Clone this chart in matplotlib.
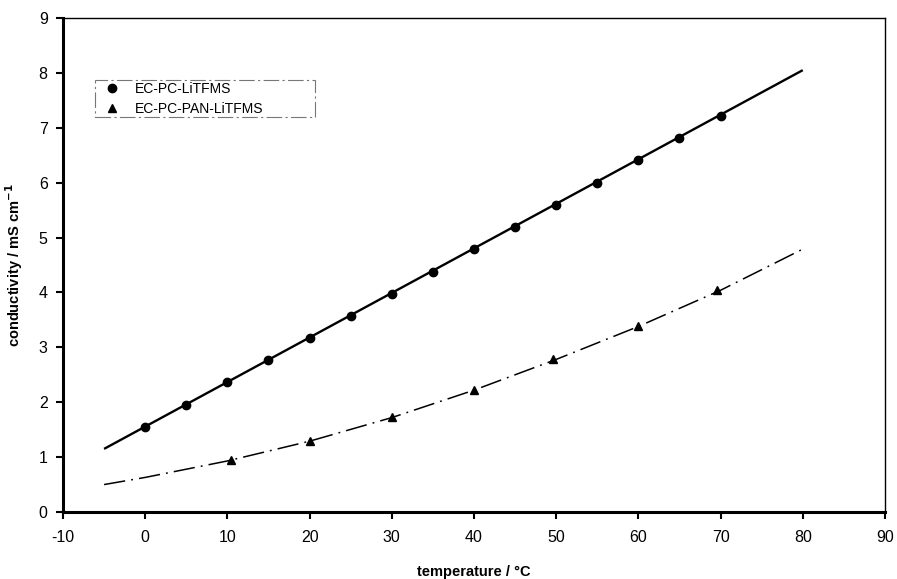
import matplotlib
matplotlib.use("Agg")
import matplotlib.pyplot as plt
from matplotlib.patches import Rectangle

# Data
liq_x = [0, 5, 10, 15, 20, 25, 30, 35, 40, 45, 50, 55, 60, 65, 70]
liq_y = [1.55, 1.95, 2.36, 2.77, 3.17, 3.58, 3.98, 4.38, 4.79, 5.19, 5.60, 6.00, 6.41, 6.82, 7.22]
liq_fit_x = [-5, 80]
liq_fit_y = [1.15, 8.05]

pan_x = [10.5, 20, 30, 40, 49.6, 60, 69.6]
pan_y = [0.94, 1.30, 1.73, 2.22, 2.79, 3.38, 4.04]
pan_fit_x = [-5, 0, 10, 20, 30, 40, 50, 60, 70, 80]
pan_fit_y = [0.50, 0.63, 0.93, 1.29, 1.72, 2.22, 2.78, 3.38, 4.04, 4.79]

labels = ["EC-PC-LiTFMS", "EC-PC-PAN-LiTFMS"]
xticks = [-10, 0, 10, 20, 30, 40, 50, 60, 70, 80, 90]
yticks = [0, 1, 2, 3, 4, 5, 6, 7, 8, 9]

plt.rcParams['font.family'] = ['Liberation Sans', 'DejaVu Sans']
plt.rcParams['axes.unicode_minus'] = False

fig = plt.figure(figsize=(8.97, 5.79), dpi=100)
ax = fig.add_axes([0.0702, 0.1157, 0.9164, 0.8532])

ax.plot(liq_fit_x, liq_fit_y, color='black', lw=1.7, solid_capstyle='butt')
ax.plot(pan_fit_x, pan_fit_y, color='black', lw=1.1,
        linestyle=(0, (14, 4, 1.2, 4)))
ax.plot(liq_x, liq_y, 'o', color='black', ms=6, linestyle='none', label=labels[0])
ax.plot(pan_x, pan_y, '^', color='black', ms=6, linestyle='none', label=labels[1])

ax.set_xlim(-10, 90)
ax.set_ylim(0, 9)
ax.set_xticks(xticks)
ax.set_yticks(yticks)
ax.tick_params(direction='out', length=5, width=1.5, labelsize=11.5, color='black')
ax.tick_params(axis='x', pad=8)
ax.tick_params(axis='y', pad=6)

for side in ['left', 'bottom']:
    ax.spines[side].set_linewidth(2.2)
for side in ['top', 'right']:
    ax.spines[side].set_linewidth(1.0)

ax.set_xlabel('temperature / °C', fontsize=10.5, fontweight='bold', labelpad=14)
ax.set_ylabel('conductivity / mS cm$^{\\mathbf{-1}}$', fontsize=10.5, fontweight='bold')
ax.yaxis.set_label_coords(-0.046, 0.5)

leg = ax.legend(loc='upper left', bbox_to_anchor=(0.050, 0.870), fontsize=10,
                frameon=False, handletextpad=1.0, handlelength=1.2,
                borderpad=0.0, labelspacing=0.4, borderaxespad=0)

ax.add_patch(Rectangle((0.039, 0.800), 0.268, 0.075, transform=ax.transAxes,
                       fill=False, edgecolor='#777777', lw=0.8,
                       linestyle=(0, (14, 3, 2, 3))))

fig.savefig('out.png', dpi=100)
